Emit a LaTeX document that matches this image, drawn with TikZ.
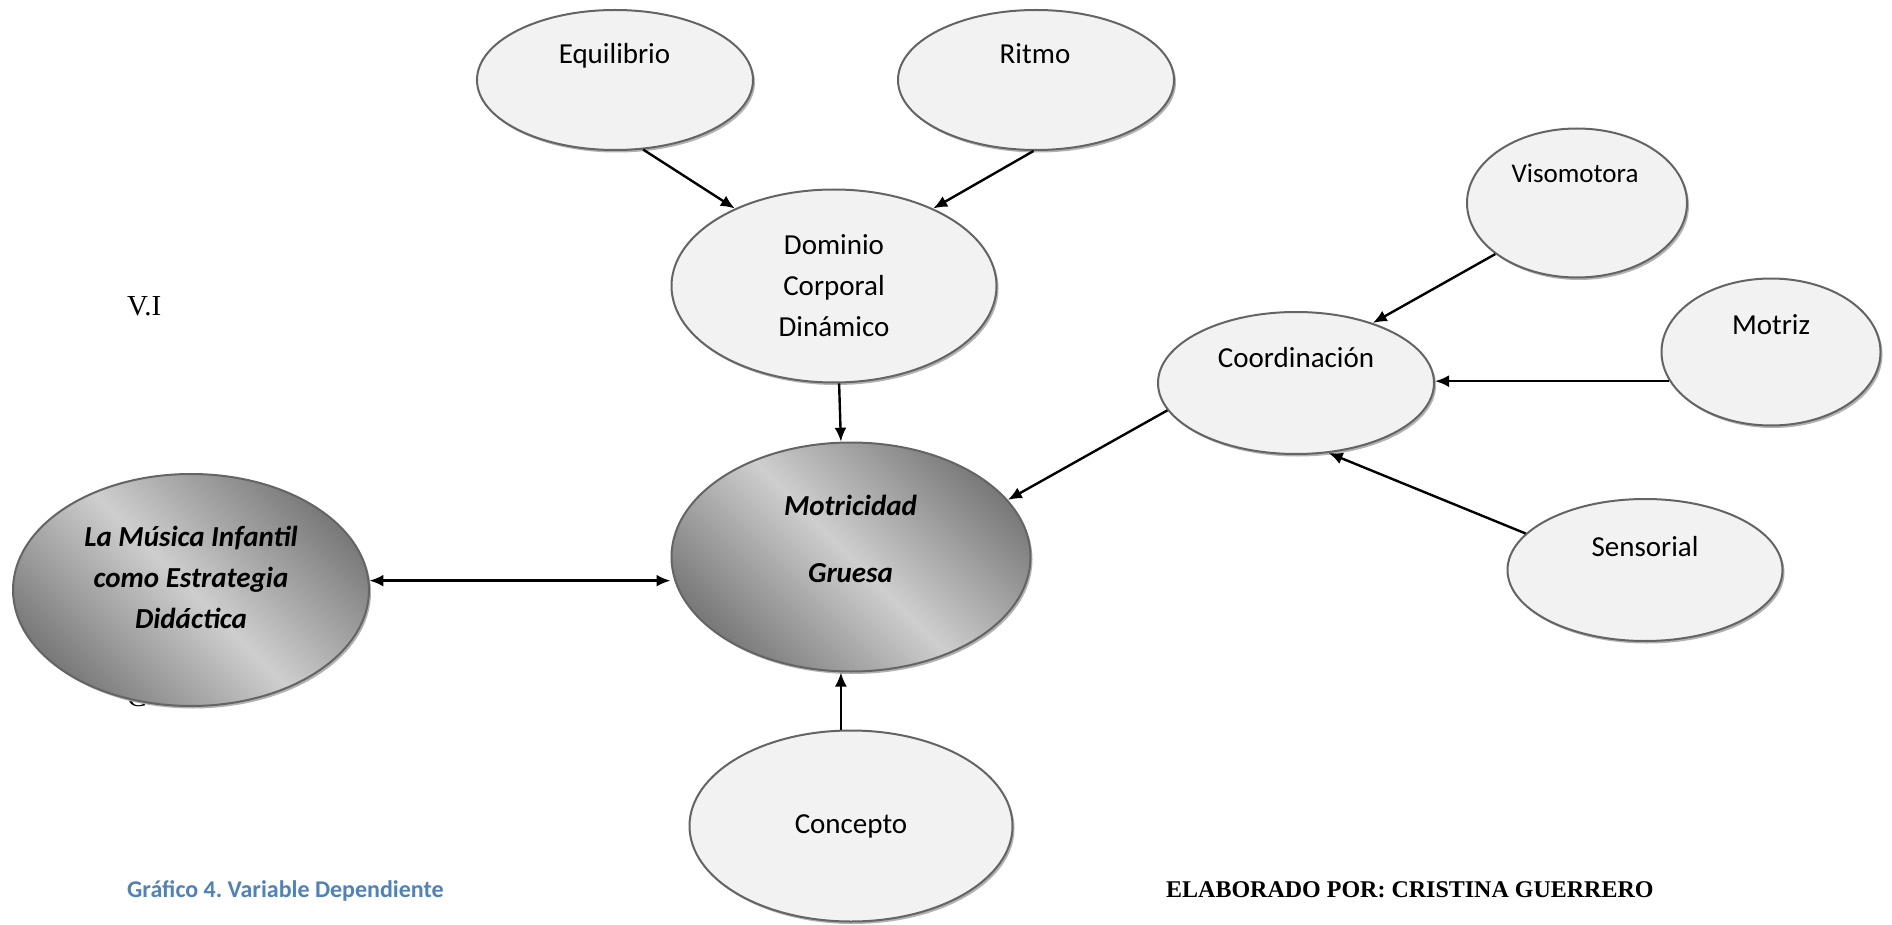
\documentclass[tikz,border=0pt]{standalone}
\usepackage{fontspec}
\setmainfont{Carlito}
\newfontfamily\serifface{Liberation Serif}
\usetikzlibrary{shapes.geometric,shadows,arrows.meta}
\definecolor{edge}{RGB}{100,100,100}
\definecolor{bubble}{RGB}{242,242,242}
\definecolor{shadeDark}{RGB}{122,122,122}
\definecolor{shadeLight}{RGB}{206,206,206}
\definecolor{captionblue}{RGB}{79,129,189}

\begin{document}
\begin{tikzpicture}[
      x=1pt, y=-1pt,
      factor/.style={ellipse, draw=edge, line width=2pt, fill=bubble, inner sep=0pt,
        font=\fontsize{29}{41}\selectfont, align=center,
        drop shadow={shadow xshift=2pt, shadow yshift=-2.5pt, fill=black!30, opacity=1}},
      core/.style={factor, top color=shadeDark, bottom color=shadeDark,
        middle color=shadeLight, shading angle=-45},
      word/.style={anchor=base, inner sep=0pt, font=\fontsize{29}{41}\selectfont},
      strong/.style={inner sep=0pt, align=center, font=\fontsize{29}{#1}\bfseries\itshape\selectfont},
      link/.style={-{Latex[length=14pt,width=12pt]}, line width=2.4pt},
  ]
    \path[use as bounding box, fill=white] (0,0) rectangle (1892,925);

    \node[word, font=\fontsize{29}{35}\serifface] (hidden) at (137,706) {C};

    \node[factor, minimum width=276pt, minimum height=140pt] (equilibrio) at (615,80) {};
    \node[factor, minimum width=276pt, minimum height=140pt] (ritmo) at (1036,80) {};
    \node[factor, minimum width=325pt, minimum height=193pt] (dominio) at (834,286)
      {Dominio\\Corporal\\Dinámico};
    \node[core, minimum width=359pt, minimum height=229pt] (motricidad) at (851,557) {};
    \node[core, minimum width=356pt, minimum height=232pt] (musica) at (191,590) {};
    \node[factor, minimum width=323pt, minimum height=191pt] (concepto) at (851,826) {Concepto};
    \node[factor, minimum width=220pt, minimum height=149pt] (visomotora) at (1577,203) {};
    \node[factor, minimum width=276pt, minimum height=142pt] (coordinacion) at (1296,383) {};
    \node[factor, minimum width=219pt, minimum height=147pt] (motriz) at (1771,352) {};
    \node[factor, minimum width=275pt, minimum height=142pt] (sensorial) at (1645,570) {};

    \draw[link] (equilibrio.-68) -- (dominio.142);
    \draw[link] (ritmo.-92) -- (dominio.38);
    \draw[link] (dominio.-87) -- (motricidad.95);
    \draw[link] (coordinacion.-168) -- (motricidad.20);
    \draw[link] (visomotora.-148) -- (coordinacion.38);
    \draw[link] (motriz.-164) -- (motriz.-164 -| coordinacion.east);
    \draw[link] (sensorial.163) -- (coordinacion.-65);
    \draw[link] (concepto.96) -- (concepto.96 |- motricidad.south);
    \draw[link, {Latex[length=14pt,width=12pt]}-{Latex[length=14pt,width=12pt]}]
      (musica.3) -- (musica.3 -| motricidad.west);

    \node[word] (equilibrio-text) at (614.5,64) {Equilibrio};
    \node[word] (ritmo-text) at (1035,64) {Ritmo};
    \node[word, font=\fontsize{27}{32}\selectfont] (visomotora-text) at (1575,183) {Visomotora};
    \node[word] (coordinacion-text) at (1296,367) {Coordinación};
    \node[word] (motriz-text) at (1771,334) {Motriz};
    \node[word] (sensorial-text) at (1645,556) {Sensorial};
    \node[strong=67] (motricidad-text) at (850.5,539) {Motricidad\\Gruesa};
    \node[strong=41] (musica-text) at (191,577)
      {La Música Infantil\\como Estrategia\\Didáctica};

    \node[word, anchor=base west, font=\fontsize{29}{35}\serifface] (vi) at (127,315) {V.I};
    \node[word, anchor=base west, text=captionblue, font=\fontsize{24}{29}\bfseries]
      (grafico) at (127,897) {Gráfico 4.\ Variable Dependiente};
    \node[word, anchor=base west, font=\fontsize{24}{29}\serifface\bfseries]
      (autor) at (1166,897) {ELABORADO POR: CRISTINA GUERRERO};
  \end{tikzpicture}
\end{document}
